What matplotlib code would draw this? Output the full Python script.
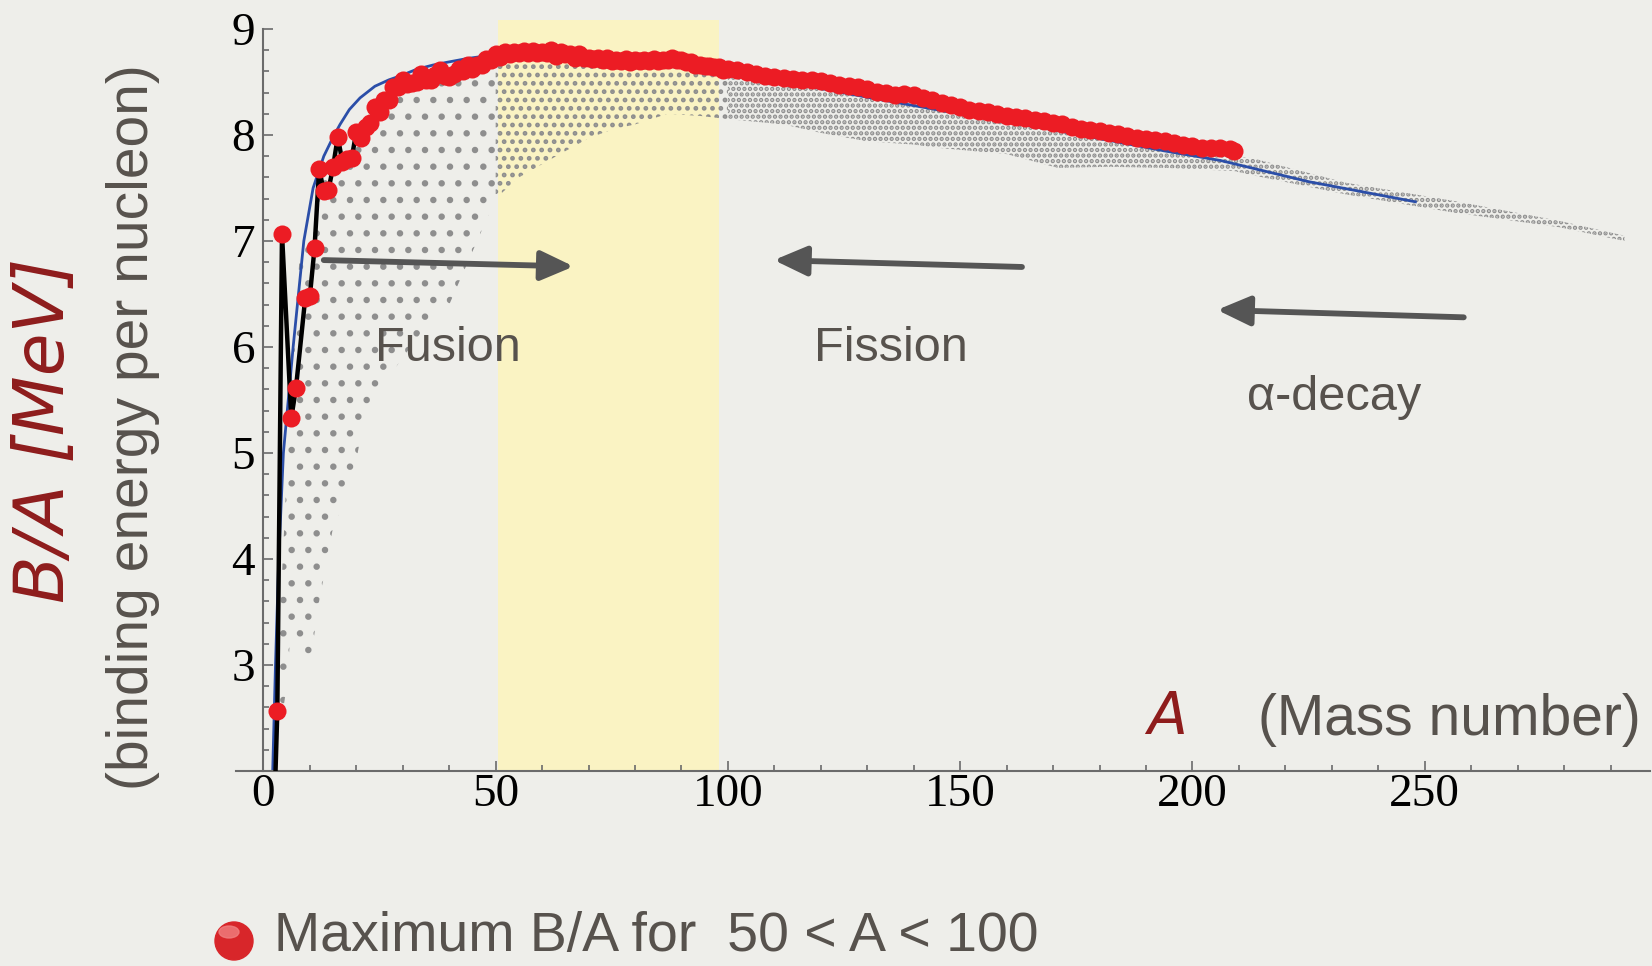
import matplotlib
matplotlib.use("Agg")
import matplotlib.pyplot as plt
from matplotlib.ticker import MultipleLocator
from matplotlib.patches import Ellipse

plt.rcParams['hatch.linewidth'] = 2.2

# most bound (stable) isobar per mass number A  -> red dots + black line
red_a = [2, 3, 4, 6, 7, 9, 10, 11, 12, 13, 14, 15, 16, 17, 18, 19, 20,
         21, 22, 23, 24, 25, 26, 27, 28, 29, 30, 31, 32, 33, 34, 35, 36,
         37, 38, 39, 40, 41, 42, 43, 44, 45, 46, 47, 48, 49, 50, 51, 52,
         53, 54, 55, 56, 57, 58, 59, 60, 61, 62, 63, 64, 65, 66, 67, 68,
         69, 70, 71, 72, 73, 74, 75, 76, 77, 78, 79, 80, 81, 82, 83, 84,
         85, 86, 87, 88, 89, 90, 91, 92, 93, 94, 95, 96, 97, 98, 99, 100,
         102, 104, 106, 108, 110, 112, 114, 116, 118, 120, 122, 124, 126,
         128, 130, 132, 134, 136, 138, 140, 142, 144, 146, 148, 150, 152,
         154, 156, 158, 160, 162, 164, 166, 168, 170, 172, 174, 176, 178,
         180, 182, 184, 186, 188, 190, 192, 194, 196, 198, 200, 202, 204,
         206, 208, 209]
red_ba = [1.11, 2.57, 7.07, 5.33, 5.61, 6.46, 6.48, 6.93, 7.68, 7.47,
          7.48, 7.70, 7.98, 7.75, 7.77, 7.78, 8.03, 7.97, 8.08, 8.11,
          8.26, 8.22, 8.33, 8.33, 8.45, 8.45, 8.52, 8.48, 8.49, 8.50,
          8.58, 8.52, 8.52, 8.57, 8.61, 8.56, 8.55, 8.58, 8.62, 8.60,
          8.66, 8.62, 8.66, 8.66, 8.72, 8.71, 8.76, 8.74, 8.78, 8.76,
          8.78, 8.77, 8.79, 8.77, 8.79, 8.77, 8.78, 8.77, 8.80, 8.75,
          8.78, 8.76, 8.76, 8.73, 8.76, 8.73, 8.73, 8.72, 8.73, 8.71,
          8.73, 8.70, 8.71, 8.70, 8.72, 8.69, 8.71, 8.70, 8.71, 8.70,
          8.72, 8.70, 8.71, 8.71, 8.73, 8.71, 8.71, 8.69, 8.69, 8.66,
          8.66, 8.65, 8.65, 8.64, 8.64, 8.61, 8.62, 8.61, 8.59, 8.58,
          8.56, 8.55, 8.54, 8.53, 8.52, 8.52, 8.51, 8.49, 8.47, 8.46,
          8.45, 8.43, 8.41, 8.40, 8.38, 8.39, 8.38, 8.35, 8.33, 8.30,
          8.28, 8.26, 8.24, 8.23, 8.22, 8.20, 8.18, 8.17, 8.16, 8.14,
          8.13, 8.11, 8.10, 8.08, 8.06, 8.05, 8.04, 8.02, 8.01, 7.99,
          7.97, 7.96, 7.95, 7.94, 7.92, 7.91, 7.90, 7.88, 7.88, 7.88,
          7.87, 7.85]

# smooth liquid-drop curve (blue line)
blue_a = [2.0, 2.6, 3.3, 4.3, 6.4, 8.7, 10.7, 13.0, 15.0, 16.5, 18.5, 20.8,
          24, 27, 29.6, 33, 36.5, 40, 43.7, 50, 56, 65, 75, 88, 100, 115,
          132, 150, 170, 194, 206, 225, 248]
blue_ba = [2.0, 3.0, 4.0, 5.0, 6.0, 7.0, 7.5, 7.8, 7.98, 8.10, 8.24, 8.35,
           8.46, 8.52, 8.56, 8.62, 8.66, 8.69, 8.72, 8.76, 8.78, 8.76, 8.72,
           8.65, 8.58, 8.48, 8.34, 8.2, 8.05, 7.85, 7.76, 7.56, 7.37]

# grey cloud of all nuclides: upper / lower edge
sparse_a = [3, 5, 6, 8, 10, 12, 15, 19, 22, 25, 30, 35, 40, 45, 50]
sparse_top = [2.9, 4.8, 5.6, 7.0, 7.1, 7.5, 7.7, 7.85, 8.0, 8.15, 8.4,
              8.48, 8.54, 8.62, 8.68]
sparse_bot = [2.2, 2.8, 3.4, 3.1, 3.0, 3.6, 4.3, 4.7, 5.4, 5.6, 5.9, 6.2,
              6.4, 6.9, 7.4]

mid_a = [50, 55, 61, 70, 75, 80, 87, 94, 100]
mid_top = [8.68, 8.72, 8.74, 8.70, 8.67, 8.68, 8.69, 8.63, 8.57]
mid_bot = [7.4, 7.6, 7.75, 7.97, 8.05, 8.1, 8.2, 8.18, 8.15]

dense_a = [100, 112, 120, 130, 140, 145, 160, 171, 182, 194, 209, 213, 233,
           256, 279, 293]
dense_top = [8.57, 8.51, 8.46, 8.40, 8.33, 8.29, 8.14, 8.06, 7.98, 7.89,
             7.80, 7.78, 7.55, 7.38, 7.19, 7.05]
dense_bot = [8.15, 8.10, 8.02, 7.94, 7.91, 7.88, 7.82, 7.69, 7.70, 7.69,
             7.66, 7.62, 7.44, 7.27, 7.13, 7.0]

x_ticks = [0, 50, 100, 150, 200, 250]
y_ticks = [3, 4, 5, 6, 7, 8, 9]
band = (50.6, 98.0)

W, H = 1652, 966
bg = '#eeeeea'
grey_txt = '#57524d'
dark_red = '#8e1c1c'

fig = plt.figure(figsize=(W / 100, H / 100), dpi=100, facecolor=bg)
ax = fig.add_axes([236 / W, 195 / H, 1414 / W, 751 / H])
ax.set_facecolor('none')
ax.set_xlim(-5.9, 298.5)
ax.set_ylim(2.0, 9.085)

ax.axvspan(*band, color='#faf3c3', zorder=0, lw=0)

gkw = dict(facecolor='none', edgecolor='#8e8e8e', linewidth=0, zorder=1)
ax.fill_between(sparse_a, sparse_bot, sparse_top, hatch='.', **gkw)
ax.fill_between(mid_a, mid_bot, mid_top, hatch='..', **gkw)
ax.fill_between(dense_a, dense_bot, dense_top, hatch='...', **gkw)

ax.plot(blue_a, blue_ba, color='#2b4ea8', lw=2, zorder=2)
ax.plot(red_a, red_ba, color='black', lw=3.2, zorder=3)
ax.plot(red_a, red_ba, 'o', color='#ec1c24', ms=13, mec='none', zorder=4)

# arrows
akw = dict(arrowstyle='-|>,head_length=1.0,head_width=0.45', lw=4.2,
           color='#555555', mutation_scale=20, shrinkA=0, shrinkB=0)
ax.annotate('', xy=(66.8, 6.76), xytext=(13.0, 6.82), arrowprops=akw)
ax.annotate('', xy=(109.9, 6.82), xytext=(163.3, 6.755), arrowprops=akw)
ax.annotate('', xy=(205.3, 6.35), xytext=(258.4, 6.28), arrowprops=akw)

sans = ['Liberation Sans', 'DejaVu Sans']
ax.text(39.7, 5.99, 'Fusion', fontsize=35, color=grey_txt, family=sans,
        ha='center', va='center')
ax.text(135, 5.99, 'Fission', fontsize=35, color=grey_txt, family=sans,
        ha='center', va='center')
ax.text(230.5, 5.52, 'α-decay', fontsize=35, color=grey_txt, family=sans,
        ha='center', va='center')

# axes styling
for s in ['top', 'right']:
    ax.spines[s].set_visible(False)
ax.spines['left'].set_position(('data', 0))
ax.spines['left'].set_bounds(2.0, 9.0)
for s in ['left', 'bottom']:
    ax.spines[s].set_color('#6b6b6b')
    ax.spines[s].set_linewidth(1.5)
ax.set_xticks(x_ticks)
ax.set_yticks(y_ticks)
ax.xaxis.set_minor_locator(MultipleLocator(10))
ax.yaxis.set_minor_locator(MultipleLocator(0.2))
ax.tick_params(which='both', direction='in', color='#6b6b6b', width=1.2,
               labelsize=34, labelfontfamily='Liberation Serif')
ax.tick_params(which='major', length=7)
ax.tick_params(which='minor', length=4.5)
ax.tick_params(axis='x', pad=2)
ax.tick_params(axis='y', pad=6)

# axis titles
fig.text(133 / W, 1 - 427 / H, '(binding energy per nucleon)', rotation=90,
         fontsize=41, color=grey_txt, family=sans, ha='center', va='center')
fig.text(44 / W, 1 - 430 / H, 'B/A [MeV]', rotation=90, fontsize=50,
         color=dark_red, family='DejaVu Sans', style='italic',
         ha='center', va='center')
fig.text(1167 / W, 1 - 718 / H, 'A', fontsize=42, color=dark_red,
         family='DejaVu Sans', style='italic', ha='center', va='center')
fig.text(1258 / W, 1 - 720 / H, '(Mass number)', fontsize=41, color=grey_txt,
         family=sans, ha='left', va='center')

# legend line at the bottom
fig.add_artist(Ellipse((234 / W, 1 - 941 / H), 38 / W, 38 / H,
                       transform=fig.transFigure, color='#d8262a'))
fig.add_artist(Ellipse((229 / W, 1 - 932 / H), 20 / W, 12 / H,
                       transform=fig.transFigure, color='#f08080', alpha=0.8))
fig.text(274 / W, 1 - 937 / H, 'Maximum B/A for  50 < A < 100', fontsize=40,
         color=grey_txt, family=sans, ha='left', va='center')

fig.savefig('out.png', dpi=100, facecolor=bg)
